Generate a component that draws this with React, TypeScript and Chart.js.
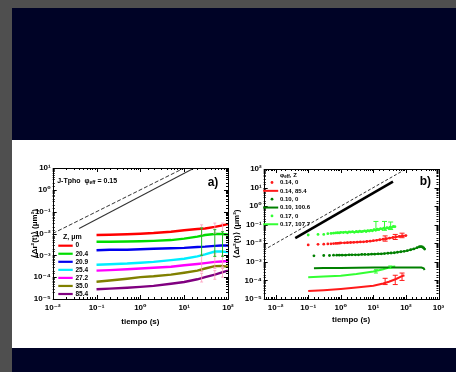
import React, { useEffect, useRef } from 'react';
import { Chart, registerables } from 'chart.js';

Chart.register(...registerables);

const FONT = '"Liberation Sans", Arial, "DejaVu Sans", sans-serif';
const GRAY = '#4f4f4f';
const NAVY = '#000326';

// ---------- Panel a) ----------
const timeA = [0.1, 0.2, 0.5, 1, 2, 5, 10, 20, 30, 50, 70, 100];
const zLabelsA = ['0', '20.4', '20.9', '25.4', '27.2', '35.0', '85.4'];
const colorsA = ['#ff0000', '#00dd00', '#0000ee', '#00eeff', '#ff00ff', '#808000', '#800080'];
const msdA_z0 = [0.0085, 0.0087, 0.0092, 0.0098, 0.0105, 0.012, 0.014, 0.016, 0.017, 0.02, 0.023, 0.027];
const msdA_z204 = [0.0042, 0.0042, 0.0043, 0.0044, 0.0046, 0.005, 0.0058, 0.0072, 0.0085, 0.0095, 0.0095, 0.009];
const msdA_z209 = [0.0017, 0.0018, 0.0018, 0.0019, 0.002, 0.0021, 0.0022, 0.0024, 0.0025, 0.0027, 0.0028, 0.0028];
const msdA_z254 = [0.00037, 0.00039, 0.00042, 0.00046, 0.0005, 0.0006, 0.0007, 0.0009, 0.0011, 0.0015, 0.0015, 0.0014];
const msdA_z272 = [0.0002, 0.00021, 0.00023, 0.00025, 0.00027, 0.0003, 0.00035, 0.0004, 0.00044, 0.0005, 0.00052, 0.00055];
const msdA_z350 = [0.000062, 0.00007, 0.000085, 0.0001, 0.00011, 0.00013, 0.00016, 0.0002, 0.00025, 0.00032, 0.00033, 0.0003];
const msdA_z854 = [0.000028, 0.00003, 0.000033, 0.000036, 0.00004, 0.00005, 0.00006, 0.00008, 0.0001, 0.00013, 0.00016, 0.0002];
const errA_green = [[25, 0.001, 0.018], [50, 0.0009, 0.015], [75, 0.0009, 0.012]];
const errA_pink = [
  [25, 0.009, 0.025], [50, 0.01, 0.03], [75, 0.012, 0.03],
  [25, 0.00018, 0.0011], [50, 0.00025, 0.0012], [75, 0.0003, 0.001],
  [25, 0.00006, 0.00015], [50, 0.00008, 0.0002], [75, 0.0001, 0.00025],
];
const refDashedA = [[0.01, 0.01], [10, 10]];
const refSolidA = [[0.04, 0.017], [17, 10]];

// ---------- Panel b) ----------
const tB_lgDots = [0.1, 0.2, 0.3, 0.4, 0.5, 0.6, 0.7, 0.8, 0.9, 1, 1.2, 1.4, 1.6, 1.8, 2, 2.3, 2.6, 3, 3.4, 3.8, 4.3, 4.8, 5.4, 6, 6.7, 7.5, 8.4, 9.4, 10.5, 11.8, 13.2, 14.8, 16.6, 18.6, 20.8, 23.3, 26.1, 29.2, 32.7, 36.6, 41, 46];
const msdB_lgDots = [0.028, 0.03, 0.03, 0.033, 0.034, 0.035, 0.036, 0.037, 0.036, 0.039, 0.038, 0.04, 0.037, 0.041, 0.04, 0.042, 0.039, 0.043, 0.041, 0.045, 0.042, 0.044, 0.047, 0.043, 0.048, 0.046, 0.05, 0.047, 0.055, 0.05, 0.058, 0.054, 0.062, 0.058, 0.066, 0.06, 0.07, 0.065, 0.075, 0.07, 0.08, 0.078];
const tB_redDots = [0.1, 0.2, 0.3, 0.4, 0.5, 0.6, 0.7, 0.8, 0.9, 1, 1.3, 1.6, 2, 2.5, 3.2, 4, 5, 6.3, 8, 10, 12.6, 15.8, 20, 25, 31.6, 40, 50, 63, 79, 100];
const msdB_redDots = [0.0082, 0.0088, 0.009, 0.0092, 0.0094, 0.0096, 0.0098, 0.01, 0.0102, 0.0104, 0.0106, 0.0108, 0.011, 0.0112, 0.0115, 0.0118, 0.012, 0.0125, 0.013, 0.0138, 0.0145, 0.0155, 0.0165, 0.0175, 0.019, 0.0205, 0.022, 0.0235, 0.025, 0.026];
const tB_dgDots = [0.15, 0.3, 0.45, 0.6, 0.75, 0.9, 1.1, 1.4, 1.8, 2.2, 2.8, 3.5, 4.4, 5.5, 7, 8.8, 11, 14, 17.5, 22, 28, 35, 44, 55, 70, 88, 110, 140, 175, 220, 260, 290, 320, 350, 375];
const msdB_dgDots = [0.0021, 0.0022, 0.0022, 0.0023, 0.0023, 0.0023, 0.0023, 0.0023, 0.0024, 0.0024, 0.0024, 0.0024, 0.0025, 0.0025, 0.0025, 0.0026, 0.0026, 0.0027, 0.0027, 0.0028, 0.0029, 0.003, 0.0031, 0.0033, 0.0035, 0.0037, 0.004, 0.0045, 0.005, 0.0058, 0.0065, 0.0066, 0.0063, 0.0056, 0.0049];
const tB_dgLine = [0.15, 0.3, 1, 3, 10, 30, 100, 200, 300, 350, 375];
const msdB_dgLine = [0.00045, 0.00046, 0.00047, 0.00048, 0.00049, 0.0005, 0.0005, 0.0005, 0.00049, 0.00045, 0.00036];
const tB_lgLine = [0.1, 0.3, 1, 3, 10, 20, 30, 40, 47];
const msdB_lgLine = [0.000148, 0.000162, 0.00018, 0.00022, 0.0003, 0.0004, 0.0005, 0.00055, 0.00056];
const tB_redLine = [0.1, 0.3, 1, 3, 10, 20, 30, 50, 70, 90];
const msdB_redLine = [0.000027, 0.00003, 0.000035, 0.000042, 0.000052, 0.000068, 0.000085, 0.00012, 0.00016, 0.00019];
const errB_redDots = [[23, 0.013, 0.025], [47, 0.016, 0.03], [76, 0.02, 0.035]];
const errB_redLine = [[23, 0.00006, 0.00013], [47, 0.00006, 0.00019], [76, 0.0001, 0.00025]];
const errB_lgDots = [[12, 0.05, 0.15], [22, 0.05, 0.15], [34, 0.055, 0.14]];
const errB_lgLine = [[12, 0.00025, 0.00038], [33, 0.00045, 0.0006]];
const refDashedB = [[0.0043, 0.0043], [100, 100]];
const refSolidB = [[0.04, 0.019], [40, 21]];
const legendLabelsB = ['0.14, 0', '0.14, 85.4', '0.10, 0', '0.10, 100.6', '0.17, 0', '0.17, 107.7'];
const legendKindsB = ['dot', 'line', 'dot', 'line', 'dot', 'line'];
const RED_B = '#ff1a1a';
const DG_B = '#008000';
const LG_B = '#33ff33';
const legendColorsB = [RED_B, RED_B, DG_B, DG_B, LG_B, LG_B];

const SUP: Record<string, string> = {
  '-': '\u207B', '0': '\u2070', '1': '\u00B9', '2': '\u00B2', '3': '\u00B3', '4': '\u2074', '5': '\u2075', '6': '\u2076',
};

const isDecade = (v: number) => {
  const e = Math.log10(v);
  return Math.abs(e - Math.round(e)) < 1e-6;
};
const decadeLabel = (v: number) => {
  if (!isDecade(v)) return '';
  const r = Math.round(Math.log10(v));
  return '10' + String(r).split('').map((c) => SUP[c] || c).join('');
};

const pts = (xs: number[], ys: number[]) => xs.map((x, i) => ({ x, y: ys[i] }));
const pairPts = (p: number[][]) => p.map(([x, y]) => ({ x, y }));

function lineSeries(label: string, xs: number[], ys: number[], color: string, width: number) {
  return {
    label, data: pts(xs, ys), borderColor: color, backgroundColor: color,
    borderWidth: width, pointRadius: 0, showLine: true, fill: false, tension: 0,
  };
}

function dotSeries(label: string, xs: number[], ys: number[], color: string, denseFrom: number) {
  return {
    label, data: pts(xs, ys), borderColor: color, backgroundColor: color,
    borderWidth: 1.6, pointRadius: 1.4, pointBorderWidth: 0, pointBackgroundColor: color,
    showLine: true, fill: false,
    segment: { borderColor: (c: any) => (c.p0.parsed.x < denseFrom ? 'rgba(0,0,0,0)' : undefined) },
  };
}

function errBars(list: number[][], color: string, cap: number, width: number) {
  return list.map(([t, lo, hi]) => ({
    label: '', data: [{ x: t, y: lo }, { x: t, y: hi }], borderColor: color, backgroundColor: color,
    borderWidth: width, pointStyle: 'line', pointRadius: cap, pointBorderColor: color,
    pointBorderWidth: width, showLine: true, fill: false,
  }));
}

function refLine(p: number[][], color: string, width: number, dash: number[]) {
  return {
    label: '', data: pairPts(p), borderColor: color, borderWidth: width, borderDash: dash,
    pointRadius: 0, showLine: true, fill: false,
  };
}

function makeScales(xmin: number, xmax: number, ymin: number, ymax: number, yWidth: number, xHeight: number, yTitlePad: number, xTitlePad: number) {
  const tickFont = { family: FONT, size: 8, weight: 'bold' as const };
  const titleFont = { family: FONT, size: 8, weight: 'bold' as const };
  return {
    x: {
      type: 'logarithmic' as const, position: 'bottom' as const, min: xmin, max: xmax,
      grid: { display: false, drawTicks: false },
      border: { display: false },
      ticks: { autoSkip: false, maxRotation: 0, minRotation: 0, padding: 4, color: '#000', font: tickFont, callback: (v: any) => decadeLabel(Number(v)) },
      title: { display: true, text: 'tiempo (s)', color: '#000', font: titleFont, padding: { top: 0, bottom: xTitlePad } },
      afterFit: (s: any) => { s.height = xHeight; s.paddingLeft = 0; s.paddingRight = 0; },
    },
    y: {
      type: 'logarithmic' as const, position: 'left' as const, min: ymin, max: ymax,
      grid: { display: false, drawTicks: false },
      border: { display: false },
      ticks: { autoSkip: false, padding: 2, color: '#000', font: tickFont, callback: (v: any) => decadeLabel(Number(v)) },
      title: { display: true, text: '\u27E8\u0394r\u00B2(t)\u27E9 (\u03BCm\u00B2)', color: '#000', font: titleFont, padding: { top: yTitlePad, bottom: 0 } },
      afterFit: (s: any) => { s.width = yWidth; s.paddingTop = 0; s.paddingBottom = 0; },
    },
  };
}

const framePlugin = {
  id: 'frame',
  afterDatasetsDraw(chart: any) {
    const { ctx, chartArea: a, scales } = chart;
    ctx.save();
    ctx.strokeStyle = '#000';
    ctx.lineWidth = 1;
    ctx.strokeRect(Math.round(a.left) + 0.5, Math.round(a.top) + 0.5, Math.round(a.right - a.left), Math.round(a.bottom - a.top));
    ctx.beginPath();
    for (const t of scales.x.ticks) {
      const px = Math.round(scales.x.getPixelForValue(t.value)) + 0.5;
      if (px < a.left || px > a.right + 1) continue;
      const len = isDecade(t.value) ? 4 : 2;
      ctx.moveTo(px, a.bottom); ctx.lineTo(px, a.bottom - len);
      ctx.moveTo(px, a.top); ctx.lineTo(px, a.top + len);
    }
    for (const t of scales.y.ticks) {
      const py = Math.round(scales.y.getPixelForValue(t.value)) + 0.5;
      if (py < a.top || py > a.bottom + 1) continue;
      const len = isDecade(t.value) ? 4 : 2;
      ctx.moveTo(a.left, py); ctx.lineTo(a.left + len, py);
      ctx.moveTo(a.right, py); ctx.lineTo(a.right - len, py);
    }
    ctx.stroke();
    ctx.restore();
  },
};

type Run = { t: string; s: number; dy?: number };
function drawRuns(ctx: CanvasRenderingContext2D, x: number, y: number, runs: Run[]) {
  let cx = x;
  for (const r of runs) {
    ctx.font = `bold ${r.s}px ${FONT}`;
    ctx.fillText(r.t, cx, y + (r.dy || 0));
    cx += ctx.measureText(r.t).width;
  }
}

const annotA = {
  id: 'annotA',
  afterDraw(chart: any) {
    const { ctx, chartArea: a } = chart;
    ctx.save();
    ctx.fillStyle = '#000';
    ctx.textBaseline = 'middle';
    ctx.textAlign = 'left';
    drawRuns(ctx, a.left + 4.5, a.top + 13, [{ t: 'J-Tpho  \u03C6', s: 7 }, { t: 'eff', s: 5, dy: 2 }, { t: ' = 0.15', s: 7 }]);
    ctx.font = `bold 12px ${FONT}`;
    ctx.fillText('a)', a.left + 155, a.top + 14.5);
    drawRuns(ctx, a.left + 10.3, a.top + 69, [{ t: 'Z, \u03BCm', s: 7 }]);
    zLabelsA.forEach((lab, i) => {
      const y = a.top + 77.7 + 8.05 * i;
      ctx.strokeStyle = colorsA[i];
      ctx.lineWidth = 2.2;
      ctx.beginPath();
      ctx.moveTo(a.left + 5.6, y);
      ctx.lineTo(a.left + 20, y);
      ctx.stroke();
      ctx.font = `bold 6.5px ${FONT}`;
      ctx.fillText(lab, a.left + 22.8, y);
    });
    ctx.restore();
  },
};

const annotB = {
  id: 'annotB',
  afterDraw(chart: any) {
    const { ctx, chartArea: a } = chart;
    ctx.save();
    ctx.fillStyle = '#000';
    ctx.textBaseline = 'middle';
    ctx.textAlign = 'left';
    drawRuns(ctx, a.left + 16.3, a.top + 6, [{ t: '\u03C6', s: 6 }, { t: 'eff', s: 4.5, dy: 1.5 }, { t: ', Z', s: 6 }]);
    legendLabelsB.forEach((lab, i) => {
      const y = a.top + 13.5 + 8.35 * i;
      const col = legendColorsB[i];
      if (legendKindsB[i] === 'dot') {
        ctx.fillStyle = col;
        ctx.beginPath();
        ctx.arc(a.left + 8.3, y, 1.4, 0, Math.PI * 2);
        ctx.fill();
      } else {
        ctx.strokeStyle = col;
        ctx.lineWidth = 2;
        ctx.beginPath();
        ctx.moveTo(a.left - 0.5, y);
        ctx.lineTo(a.left + 14.5, y);
        ctx.stroke();
      }
      ctx.fillStyle = '#000';
      ctx.font = `bold 6px ${FONT}`;
      ctx.fillText(lab, a.left + 16.3, y);
    });
    ctx.font = `bold 12px ${FONT}`;
    ctx.fillText('b)', a.left + 156, a.top + 13);
    ctx.restore();
  },
};

function configA(): any {
  const seriesA = [msdA_z0, msdA_z204, msdA_z209, msdA_z254, msdA_z272, msdA_z350, msdA_z854];
  return {
    type: 'line',
    data: {
      datasets: [
        ...errBars(errA_green, '#22bb22', 1.5, 1),
        ...errBars(errA_pink, '#ff99bb', 1.5, 0.8),
        ...seriesA.map((ys, i) => lineSeries(zLabelsA[i], timeA, ys, colorsA[i], 2.4)),
        refLine(refDashedA, '#333', 1, [4, 2]),
        refLine(refSolidA, '#333', 1.1, []),
      ],
    },
    options: {
      responsive: false, animation: false, events: [],
      layout: { padding: { top: 28, right: 6, left: 0, bottom: 0 } },
      plugins: { legend: { display: false }, tooltip: { enabled: false } },
      scales: makeScales(0.01, 100, 1e-5, 10, 40.7, 49, 17.6, 21.6),
    },
    plugins: [framePlugin, annotA],
  };
}

function configB(): any {
  return {
    type: 'line',
    data: {
      datasets: [
        ...errBars(errB_redDots, RED_B, 2.5, 1),
        ...errBars(errB_redLine, RED_B, 2.5, 1),
        ...errBars(errB_lgDots, LG_B, 2.5, 1),
        ...errBars(errB_lgLine, LG_B, 2, 1),
        dotSeries(legendLabelsB[0], tB_redDots, msdB_redDots, RED_B, 0.7),
        lineSeries(legendLabelsB[1], tB_redLine, msdB_redLine, RED_B, 2),
        dotSeries(legendLabelsB[2], tB_dgDots, msdB_dgDots, DG_B, 0.7),
        lineSeries(legendLabelsB[3], tB_dgLine, msdB_dgLine, DG_B, 2),
        dotSeries(legendLabelsB[4], tB_lgDots, msdB_lgDots, LG_B, 0.45),
        lineSeries(legendLabelsB[5], tB_lgLine, msdB_lgLine, LG_B, 2),
        refLine(refDashedB, '#333', 1, [3, 2]),
        refLine(refSolidB, '#000', 2.6, []),
      ],
    },
    options: {
      responsive: false, animation: false, events: [],
      layout: { padding: { top: 29, right: 17.5, left: 0, bottom: 0 } },
      plugins: { legend: { display: false }, tooltip: { enabled: false } },
      scales: makeScales(0.0043, 1000, 1e-5, 100, 39.7, 49, 8.3, 23.6),
    },
    plugins: [framePlugin, annotB],
  };
}

export default function App() {
  const refA = useRef<HTMLCanvasElement>(null);
  const refB = useRef<HTMLCanvasElement>(null);
  useEffect(() => {
    const ca = new Chart(refA.current as HTMLCanvasElement, configA());
    const cb = new Chart(refB.current as HTMLCanvasElement, configB());
    return () => {
      ca.destroy();
      cb.destroy();
    };
  }, []);
  return (
    <div style={{ position: 'fixed', left: 0, top: 0, width: 456, height: 372, background: GRAY, overflow: 'hidden' }}>
      <div style={{ position: 'absolute', left: 12, top: 8, width: 444, height: 364, background: NAVY }} />
      <div style={{ position: 'absolute', left: 12, top: 140, width: 444, height: 208, background: '#ffffff' }} />
      <canvas ref={refA} width={222} height={208} style={{ position: 'absolute', left: 12, top: 140, width: 222, height: 208 }} />
      <canvas ref={refB} width={232} height={208} style={{ position: 'absolute', left: 224, top: 140, width: 232, height: 208 }} />
    </div>
  );
}
